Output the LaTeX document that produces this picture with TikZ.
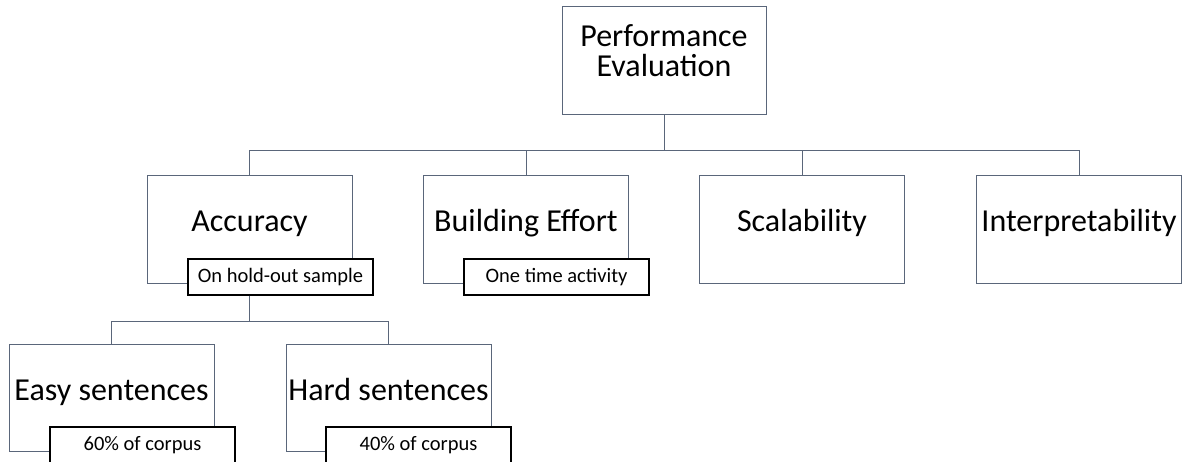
\documentclass[tikz,border=0pt]{standalone}
\usepackage{fontspec}
\setmainfont{Carlito}
\definecolor{boxline}{RGB}{90,102,122}
\begin{document}
\begin{tikzpicture}[
    x=1pt, y=-1pt,
    box/.style={draw=boxline, line width=1pt, fill=white, minimum width=205pt, minimum height=107pt,
        inner sep=0pt, text height=20pt, text depth=15pt, font=\fontsize{32}{30}\selectfont},
    note/.style={draw=black, fill=white, line width=1.3pt, minimum width=185pt, minimum height=36pt,
        inner sep=0pt, font=\fontsize{20.5}{22}\selectfont},
    link/.style={draw=boxline, line width=1pt}
]
\useasboundingbox (0,0) rectangle (1185,462);
\clip (0,0) rectangle (1185,462);

% Radice
\node[box, minimum width=204pt, minimum height=108pt, align=center, text height=50pt, text depth=18pt]
    (perf) at (664,61) {Performance\\Evaluation};

% Criteri
\node[box] (acc) at (249.5,229.5) {Accuracy};
\node[box] (build) at (526,229.5) {Building Effort};
\node[box] (scal) at (802,229.5) {Scalability};
\node[box] (interp) at (1079,229.5) {Interpretability};

\node[note] (hold) at (280.5,277) {On hold-out sample};
\node[note] (once) at (556.5,277) {One time activity};

% Frasi
\node[box] (easy) at (111.5,398) {Easy sentences};
\node[box] (hard) at (388.5,398) {Hard sentences};

\node[note] (sixty) at (142.5,445) {60\% of corpus};
\node[note] (forty) at (418.5,445) {40\% of corpus};

% Collegamenti
\coordinate (bus) at (664,151);
\draw[link] (perf.south) -- (bus);
\draw[link] (bus) -| (acc.north);
\draw[link] (bus) -| (build.north);
\draw[link] (bus) -| (scal.north);
\draw[link] (bus) -| (interp.north);

\coordinate (sub) at (249,321);
\draw[link] (hold.south -| sub) -- (sub);
\draw[link] (sub) -| (easy.north);
\draw[link] (sub) -| (hard.north);
\end{tikzpicture}
\end{document}
